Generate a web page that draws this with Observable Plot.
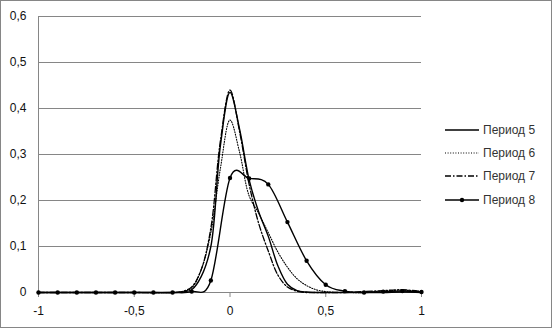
<!DOCTYPE html>
<html>
<head>
<meta charset="utf-8">
<script src="https://cdn.jsdelivr.net/npm/d3@7"></script>
<script src="https://cdn.jsdelivr.net/npm/@observablehq/plot@0.6"></script>
<style>
  body { margin: 0; background: #fff; }
  #wrap { position: relative; width: 552px; height: 328px; font-family: "Liberation Sans", Arial, sans-serif; }
  #border { position: absolute; left: 0; top: 0; width: 552px; height: 328px; box-sizing: border-box; border: 1px solid #868686; pointer-events: none; }
  #legend { position: absolute; left: 445px; top: 118px; font-size: 12px; color: #333; }
  .row { display: flex; align-items: center; height: 23.3px; }
  .row svg { margin-right: 3px; }
</style>
</head>
<body>
<div id="wrap"><div id="chart"></div><div id="legend"></div><div id="border"></div></div>
<script>
const seriesNames = ["Период 5", "Период 6", "Период 7", "Период 8"];

const xs = [-1, -0.5, -0.3, -0.25, -0.2, -0.15, -0.1, -0.05, 0, 0.05, 0.1, 0.15, 0.2, 0.25, 0.3, 0.35, 0.4, 0.45, 0.5, 0.55, 0.6, 0.7, 0.8, 0.9, 1];
const p5 = [0, 0, 0, 0.001, 0.006, 0.035, 0.1, 0.32, 0.435, 0.355, 0.245, 0.175, 0.122, 0.058, 0.018, 0.004, 0.001, 0, 0, 0, 0, 0, 0, 0.001, 0];
const p6 = [0, 0, 0, 0.002, 0.01, 0.05, 0.13, 0.27, 0.375, 0.305, 0.21, 0.172, 0.13, 0.088, 0.055, 0.03, 0.015, 0.006, 0.002, 0, 0, 0, 0.003, 0.005, 0.002];
const p7 = [0, 0, 0, 0.002, 0.012, 0.05, 0.14, 0.33, 0.44, 0.35, 0.235, 0.15, 0.09, 0.038, 0.012, 0.003, 0, 0, 0, 0, 0, 0.002, 0.004, 0.006, 0.002];

const xs8 = [-1, -0.9, -0.8, -0.7, -0.6, -0.5, -0.4, -0.3, -0.2, -0.1, 0, 0.1, 0.2, 0.3, 0.4, 0.5, 0.6, 0.7, 0.8, 0.9, 1];
const p8 = [0, 0, 0, 0, 0, 0, 0, 0, 0.002, 0.026, 0.249, 0.248, 0.235, 0.153, 0.069, 0.017, 0.003, 0, 0.002, 0.003, 0.001];

const xTicks = [-1, -0.5, 0, 0.5, 1];
const yTicks = [0, 0.1, 0.2, 0.3, 0.4, 0.5, 0.6];

const styles = [
  { dash: null, width: 1.4 },
  { dash: "1,1.6", width: 1.1 },
  { dash: "6,2,1.5,2", width: 1.3 },
  { dash: null, width: 1.4 }
];

const fmt = d => String(d).replace(".", ",");
const rows = (x, y) => x.map((v, i) => ({ x: v, y: y[i] }));
const d5 = rows(xs, p5), d6 = rows(xs, p6), d7 = rows(xs, p7), d8 = rows(xs8, p8);

const chart = Plot.plot({
  width: 552,
  height: 328,
  marginLeft: 38,
  marginRight: 131,
  marginTop: 16,
  marginBottom: 36,
  style: { fontFamily: "Liberation Sans, Arial, sans-serif", fontSize: "12px", color: "#111", background: "transparent" },
  x: { domain: [-1, 1], label: null },
  y: { domain: [0, 0.6], label: null },
  marks: [
    Plot.gridY(yTicks, { stroke: "#868686", strokeOpacity: 1 }),
    Plot.ruleX([-1], { stroke: "#868686" }),
    Plot.axisY(yTicks, { tickSize: 0, tickPadding: 12, tickFormat: fmt, fill: "#111" }),
    Plot.axisX(xTicks, { tickSize: 5, tickPadding: 9, tickFormat: fmt, stroke: "#868686", fill: "#111" }),
    Plot.ruleY([0], { stroke: "#868686" }),
    Plot.line(d5, { x: "x", y: "y", curve: "catmull-rom", stroke: "#000", strokeWidth: styles[0].width }),
    Plot.line(d6, { x: "x", y: "y", curve: "catmull-rom", stroke: "#000", strokeWidth: styles[1].width, strokeDasharray: styles[1].dash }),
    Plot.line(d7, { x: "x", y: "y", curve: "catmull-rom", stroke: "#000", strokeWidth: styles[2].width, strokeDasharray: styles[2].dash }),
    Plot.line(d8, { x: "x", y: "y", curve: "cardinal", stroke: "#000", strokeWidth: styles[3].width }),
    Plot.dot(d8, { x: "x", y: "y", r: 2.2, fill: "#000", stroke: "none" })
  ]
});
document.getElementById("chart").appendChild(chart);

const legend = document.getElementById("legend");
seriesNames.forEach((name, i) => {
  const row = document.createElement("div");
  row.className = "row";
  const s = styles[i];
  row.innerHTML = `<svg width="35" height="10"><line x1="0" y1="5" x2="34" y2="5" stroke="#000" stroke-width="${s.width}" ${s.dash ? `stroke-dasharray="${s.dash}"` : ""}/>${i === 3 ? '<circle cx="17" cy="5" r="2.2" fill="#000"/>' : ""}</svg><span>${name}</span>`;
  legend.appendChild(row);
});
</script>
</body>
</html>
